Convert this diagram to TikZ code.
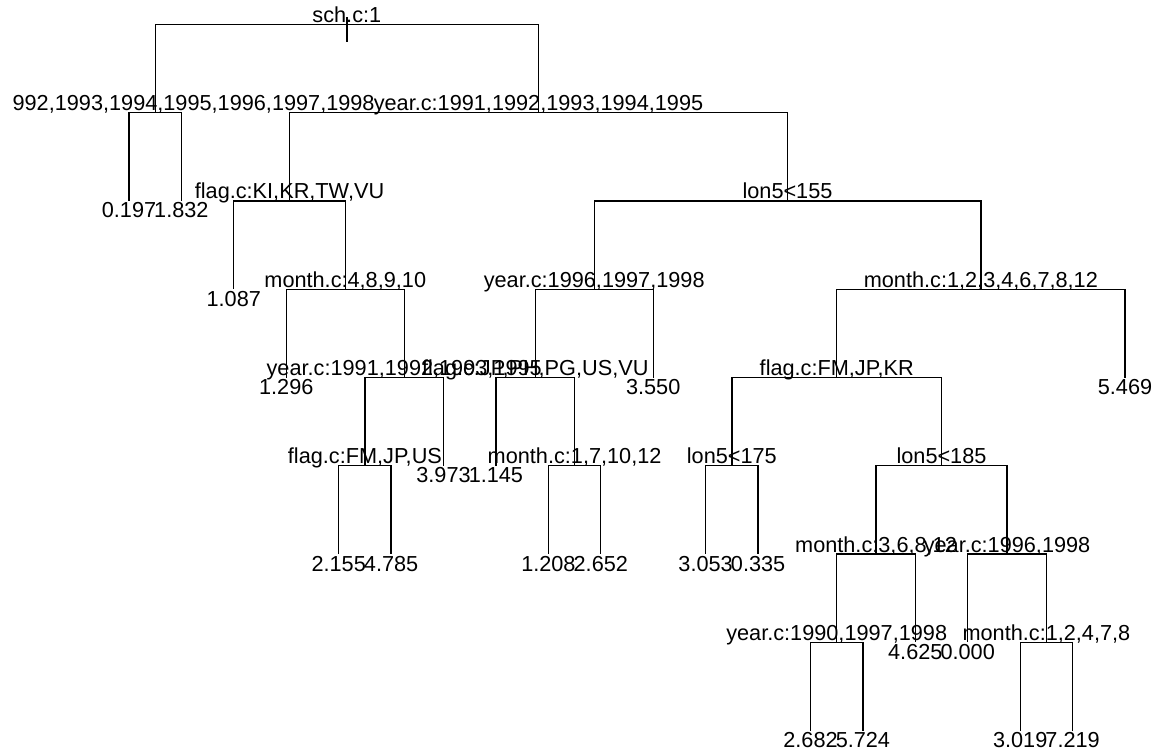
\documentclass[tikz,border=0pt]{standalone}
\usepackage{fontspec}
\setmainfont{Liberation Sans}
\begin{document}
\begin{tikzpicture}[x=1pt,y=-1pt,
  lbl/.style={inner sep=0pt, outer sep=0pt, font=\fontsize{21.7}{26}\selectfont},
  splitlbl/.style={lbl, anchor=base, yshift=2pt},
  leaflbl/.style={lbl, anchor=base, yshift=-17pt},
  edge/.style={line width=1.35pt, line cap=butt}]
\useasboundingbox (0,0) rectangle (1157,754);
% tree node positions
\coordinate (n1) at (346.85,24.3);
\coordinate (n2) at (155.2,112.6);
\coordinate (n3) at (538.5,112.6);
\coordinate (n4) at (129,200.9);
\coordinate (n5) at (181.4,200.9);
\coordinate (n6) at (289.5,200.9);
\coordinate (n7) at (787.5,200.9);
\coordinate (n8) at (233.8,289.2);
\coordinate (n9) at (345.25,289.2);
\coordinate (n10) at (594.2,289.2);
\coordinate (n11) at (980.85,289.2);
\coordinate (n12) at (286.3,377.5);
\coordinate (n13) at (404.2,377.5);
\coordinate (n14) at (535.25,377.5);
\coordinate (n15) at (653.2,377.5);
\coordinate (n16) at (836.7,377.5);
\coordinate (n17) at (1125,377.5);
\coordinate (n18) at (364.9,465.8);
\coordinate (n19) at (443.5,465.8);
\coordinate (n20) at (495.9,465.8);
\coordinate (n21) at (574.6,465.8);
\coordinate (n22) at (731.85,465.8);
\coordinate (n23) at (941.5,465.8);
\coordinate (n24) at (338.7,554.1);
\coordinate (n25) at (391.1,554.1);
\coordinate (n26) at (548.4,554.1);
\coordinate (n27) at (600.8,554.1);
\coordinate (n28) at (705.6,554.1);
\coordinate (n29) at (758.1,554.1);
\coordinate (n30) at (876,554.1);
\coordinate (n31) at (1007.05,554.1);
\coordinate (n32) at (836.7,642.4);
\coordinate (n33) at (915.3,642.4);
\coordinate (n34) at (967.7,642.4);
\coordinate (n35) at (1046.4,642.4);
\coordinate (n36) at (810.5,730.7);
\coordinate (n37) at (862.9,730.7);
\coordinate (n38) at (1020.2,730.7);
\coordinate (n39) at (1072.6,730.7);
\coordinate (roottop) at (346.85,17);
\coordinate (rootbot) at (346.85,42);
% connectors
\draw[edge] (roottop) -- (rootbot);
\foreach \p/\c in {n1/n2,n1/n3,n2/n4,n2/n5,n3/n6,n3/n7,n6/n8,n6/n9,n7/n10,n7/n11,
  n9/n12,n9/n13,n10/n14,n10/n15,n11/n16,n11/n17,n13/n18,n13/n19,n14/n20,n14/n21,
  n16/n22,n16/n23,n18/n24,n18/n25,n21/n26,n21/n27,n22/n28,n22/n29,n23/n30,n23/n31,
  n30/n32,n30/n33,n31/n34,n31/n35,n32/n36,n32/n37,n35/n38,n35/n39}
  \draw[edge] (\p) -| (\c);
% split labels
\node[splitlbl] (t1) at (n1) {sch.c:1};
\node[lbl, anchor=base west, yshift=2pt] (t2) at (12.6,112.6) {992,1993,1994,1995,1996,1997,1998};
\node[splitlbl] (t3) at (n3) {year.c:1991,1992,1993,1994,1995};
\node[splitlbl] (t6) at (n6) {flag.c:KI,KR,TW,VU};
\node[splitlbl] (t7) at (n7) {lon5<155};
\node[splitlbl] (t9) at (n9) {month.c:4,8,9,10};
\node[splitlbl] (t10) at (n10) {year.c:1996,1997,1998};
\node[splitlbl] (t11) at (n11) {month.c:1,2,3,4,6,7,8,12};
\node[splitlbl] (t13) at (n13) {year.c:1991,1992,1993,1995};
\node[splitlbl] (t14) at (n14) {flag.c:JP,PH,PG,US,VU};
\node[splitlbl] (t16) at (n16) {flag.c:FM,JP,KR};
\node[splitlbl] (t18) at (n18) {flag.c:FM,JP,US};
\node[splitlbl] (t21) at (n21) {month.c:1,7,10,12};
\node[splitlbl] (t22) at (n22) {lon5<175};
\node[splitlbl] (t23) at (n23) {lon5<185};
\node[splitlbl] (t30) at (n30) {month.c:3,6,8,12};
\node[splitlbl] (t31) at (n31) {year.c:1996,1998};
\node[splitlbl] (t32) at (n32) {year.c:1990,1997,1998};
\node[splitlbl] (t35) at (n35) {month.c:1,2,4,7,8};
% leaf labels
\node[leaflbl] (t4) at (n4) {0.197};
\node[leaflbl] (t5) at (n5) {1.832};
\node[leaflbl] (t8) at (n8) {1.087};
\node[leaflbl] (t12) at (n12) {1.296};
\node[leaflbl] (t15) at (n15) {3.550};
\node[leaflbl] (t17) at (n17) {5.469};
\node[leaflbl] (t19) at (n19) {3.973};
\node[leaflbl] (t20) at (n20) {1.145};
\node[leaflbl] (t24) at (n24) {2.155};
\node[leaflbl] (t25) at (n25) {4.785};
\node[leaflbl] (t26) at (n26) {1.208};
\node[leaflbl] (t27) at (n27) {2.652};
\node[leaflbl] (t28) at (n28) {3.053};
\node[leaflbl] (t29) at (n29) {0.335};
\node[leaflbl] (t33) at (n33) {4.625};
\node[leaflbl] (t34) at (n34) {0.000};
\node[leaflbl] (t36) at (n36) {2.682};
\node[leaflbl] (t37) at (n37) {5.724};
\node[leaflbl] (t38) at (n38) {3.019};
\node[leaflbl] (t39) at (n39) {7.219};
\end{tikzpicture}
\end{document}
